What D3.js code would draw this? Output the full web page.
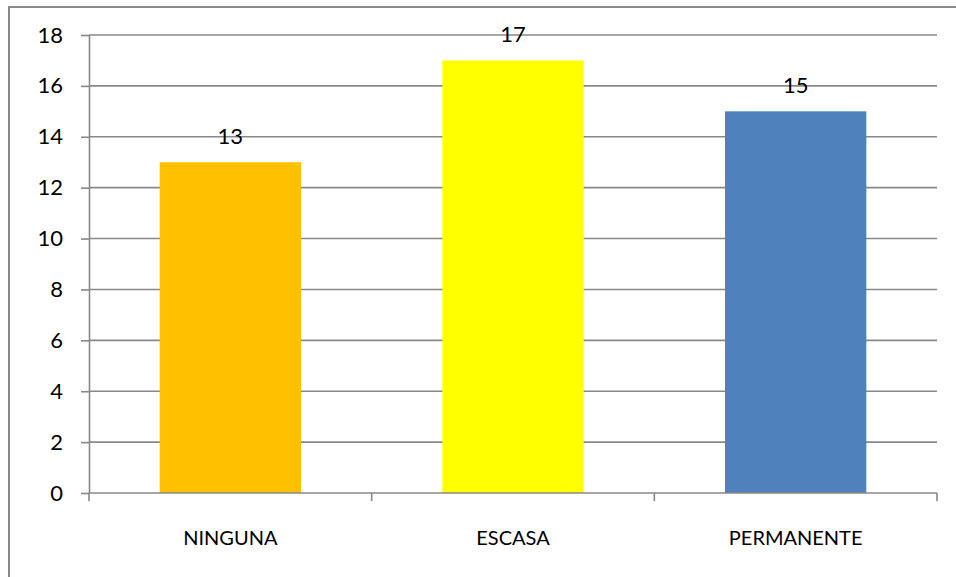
<!DOCTYPE html>
<html>
<head>
<meta charset="utf-8">
<script src="https://cdn.jsdelivr.net/npm/d3@7"></script>
<style>
  html, body { margin: 0; padding: 0; background: #fff; }
  svg { display: block; }
</style>
</head>
<body>
<svg id="chart" width="956" height="577"></svg>
<script>
// Categories, values and axis ticks
const categories = ["NINGUNA", "ESCASA", "PERMANENTE"];
const values = [13, 17, 15];
const barColors = ["#FFC000", "#FFFF00", "#4F81BD"];
const yTicks = [0, 2, 4, 6, 8, 10, 12, 14, 16, 18];

const svg = d3.select("#chart");
const W = 956, H = 577;
const plot = { left: 89, right: 937, top: 35, bottom: 493 };
const font = "Lato, 'Liberation Sans', sans-serif";
const gridColor = "#888888";

// Outer chart frame
svg.append("rect")
  .attr("x", 9).attr("y", 7)
  .attr("width", W + 10).attr("height", H + 10)
  .attr("fill", "#fff")
  .attr("stroke", gridColor)
  .attr("stroke-width", 2);

const x = d3.scaleBand()
  .domain(categories)
  .range([plot.left, plot.right])
  .paddingInner(0.5)
  .paddingOuter(0.25);

const y = d3.scaleLinear()
  .domain([0, 18])
  .range([plot.bottom, plot.top]);

// Horizontal gridlines
svg.append("g")
  .selectAll("line")
  .data(yTicks.filter(t => t > 0))
  .join("line")
  .attr("x1", plot.left).attr("x2", plot.right)
  .attr("y1", d => y(d)).attr("y2", d => y(d))
  .attr("stroke", gridColor)
  .attr("stroke-width", 1.6);

// Y axis
const yAxis = svg.append("g")
  .attr("transform", `translate(${plot.left},0)`)
  .call(d3.axisLeft(y).tickValues(yTicks).tickSize(8).tickPadding(18).tickSizeOuter(0));
yAxis.select(".domain").attr("stroke", gridColor).attr("stroke-width", 1.6);
yAxis.selectAll(".tick line").attr("stroke", gridColor).attr("stroke-width", 1.6);
yAxis.selectAll(".tick text")
  .attr("font-family", font)
  .attr("font-size", 22)
  .attr("fill", "#000");

// Bars
svg.append("g")
  .selectAll("rect")
  .data(values)
  .join("rect")
  .attr("x", (d, i) => x(categories[i]))
  .attr("width", x.bandwidth())
  .attr("y", d => y(d))
  .attr("height", d => y(0) - y(d))
  .attr("fill", (d, i) => barColors[i]);

// X axis line with band-boundary ticks
const xAxisG = svg.append("g");
xAxisG.append("line")
  .attr("x1", plot.left).attr("x2", plot.right)
  .attr("y1", plot.bottom).attr("y2", plot.bottom)
  .attr("stroke", gridColor).attr("stroke-width", 1.6);
const step = x.step();
const boundaries = d3.range(categories.length + 1).map(i => plot.left + i * (plot.right - plot.left) / categories.length);
xAxisG.selectAll("line.tick")
  .data(boundaries)
  .join("line")
  .attr("class", "tick")
  .attr("x1", d => d).attr("x2", d => d)
  .attr("y1", plot.bottom).attr("y2", plot.bottom + 8)
  .attr("stroke", gridColor).attr("stroke-width", 1.6);

// Category labels
svg.append("g")
  .selectAll("text")
  .data(categories)
  .join("text")
  .attr("x", d => x(d) + x.bandwidth() / 2)
  .attr("y", 545)
  .attr("text-anchor", "middle")
  .attr("font-family", font)
  .attr("font-size", 20)
  .attr("fill", "#000")
  .text(d => d);

// Value labels above bars
svg.append("g")
  .selectAll("text")
  .data(values)
  .join("text")
  .attr("x", (d, i) => x(categories[i]) + x.bandwidth() / 2)
  .attr("y", d => y(d) - 18)
  .attr("text-anchor", "middle")
  .attr("font-family", font)
  .attr("font-size", 22)
  .attr("fill", "#000")
  .text(d => d);
</script>
</body>
</html>
